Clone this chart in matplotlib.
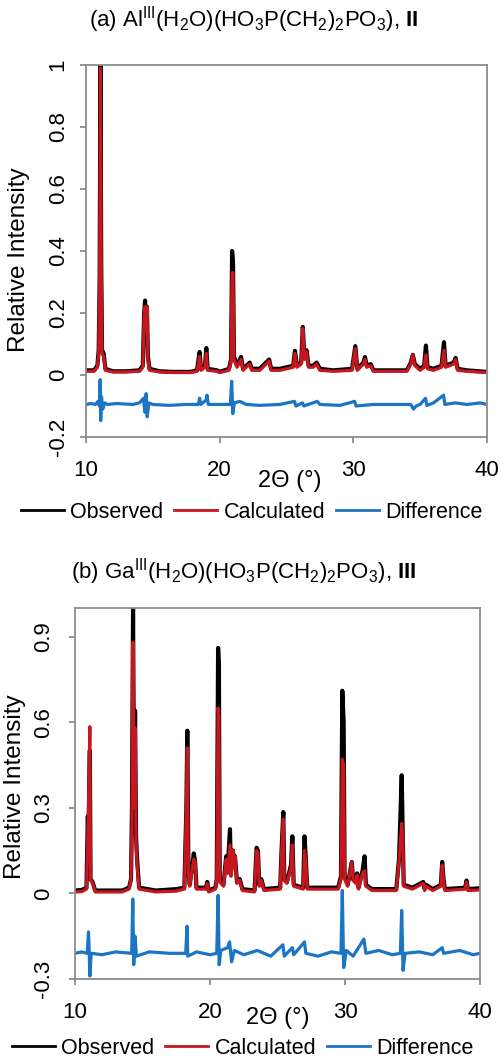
import numpy as np
import matplotlib
matplotlib.use("Agg")
import matplotlib.pyplot as plt
from matplotlib.lines import Line2D

plt.rcParams['font.family'] = ['Liberation Sans', 'DejaVu Sans']
plt.rcParams['mathtext.fontset'] = 'custom'
plt.rcParams['mathtext.rm'] = 'Liberation Sans'
plt.rcParams['mathtext.it'] = 'Liberation Sans:italic'
plt.rcParams['mathtext.bf'] = 'Liberation Sans:bold'

# ------------------------------
# Panel (a): Al(III) compound II
# ------------------------------
tth_obs_a = [10.0, 10.6, 10.85, 10.95, 11.02, 11.08, 11.14, 11.2, 11.32, 11.45, 12.0, 13.0,
             14.0, 14.25, 14.35, 14.42, 14.5, 14.56, 14.63, 14.75, 15.5, 16.5, 17.8, 18.3,
             18.5, 18.6, 18.9, 19.0, 19.1, 19.8, 20.0, 20.7, 20.85, 20.93, 21.0, 21.07,
             21.3, 21.6, 21.75, 22.0, 22.25, 22.4, 23.0, 23.7, 23.85, 24.5, 25.5, 25.63,
             25.78, 26.1, 26.22, 26.33, 26.5, 26.65, 27.0, 27.25, 27.5, 28.5, 29.9, 30.15,
             30.3, 30.75, 30.87, 31.0, 31.3, 31.5, 34.0, 34.3, 34.45, 34.6, 35.0, 35.3,
             35.43, 35.55, 36.0, 36.6, 36.78, 36.9, 37.5, 37.65, 37.8, 38.5, 40.0]
obs_a = [0.015, 0.015, 0.03, 0.08, 0.30, 1.0, 0.35, 0.08, 0.07, 0.02, 0.012, 0.012,
         0.015, 0.03, 0.20, 0.24, 0.15, 0.22, 0.06, 0.02, 0.012, 0.01, 0.01, 0.015,
         0.074, 0.02, 0.03, 0.087, 0.02, 0.015, 0.01, 0.02, 0.05, 0.40, 0.36, 0.06,
         0.03, 0.058, 0.02, 0.03, 0.04, 0.02, 0.02, 0.05, 0.02, 0.02, 0.03, 0.078,
         0.03, 0.04, 0.155, 0.06, 0.08, 0.03, 0.03, 0.04, 0.02, 0.015, 0.02, 0.093,
         0.02, 0.04, 0.058, 0.03, 0.035, 0.015, 0.015, 0.04, 0.065, 0.035, 0.02, 0.03,
         0.095, 0.025, 0.02, 0.03, 0.106, 0.03, 0.04, 0.055, 0.02, 0.015, 0.01]
calc_a = [0.012, 0.012, 0.025, 0.07, 0.30, 0.99, 0.35, 0.07, 0.06, 0.015, 0.01, 0.01,
          0.012, 0.025, 0.19, 0.22, 0.14, 0.22, 0.05, 0.015, 0.01, 0.008, 0.008, 0.012,
          0.06, 0.015, 0.025, 0.07, 0.015, 0.012, 0.008, 0.015, 0.045, 0.33, 0.33, 0.05,
          0.025, 0.05, 0.015, 0.025, 0.035, 0.015, 0.015, 0.045, 0.015, 0.015, 0.025, 0.07,
          0.025, 0.035, 0.15, 0.05, 0.075, 0.025, 0.025, 0.035, 0.015, 0.012, 0.015, 0.085,
          0.015, 0.035, 0.05, 0.025, 0.03, 0.012, 0.012, 0.035, 0.065, 0.03, 0.015, 0.025,
          0.065, 0.02, 0.015, 0.025, 0.08, 0.025, 0.035, 0.05, 0.015, 0.012, 0.008]

tth_diff_a = [10.0, 10.4, 10.7, 10.9, 11.0, 11.06, 11.1, 11.16, 11.25, 11.4, 11.6, 12.3,
              13.5, 14.0, 14.3, 14.4, 14.5, 14.58, 14.7, 15.0, 16.2, 17.5, 18.4, 18.5,
              18.6, 19.0, 19.05, 19.15, 20.8, 20.9, 20.98, 21.1, 21.5, 22.0, 23.0, 24.5,
              25.6, 25.7, 26.2, 26.3, 27.3, 27.5, 29.0, 30.1, 30.2, 31.5, 33.0, 34.3,
              34.5, 34.7, 35.0, 35.4, 35.5, 36.0, 36.75, 36.85, 37.6, 38.5, 39.5, 40.0]
diff_a = [-0.095, -0.092, -0.095, -0.085, -0.10, -0.015, -0.147, -0.07, -0.11, -0.09, -0.095, -0.092,
          -0.095, -0.09, -0.075, -0.12, -0.06, -0.135, -0.09, -0.095, -0.098, -0.095, -0.095, -0.075,
          -0.095, -0.08, -0.065, -0.095, -0.095, -0.02, -0.125, -0.09, -0.085, -0.095, -0.098, -0.095,
          -0.085, -0.10, -0.09, -0.10, -0.085, -0.095, -0.098, -0.085, -0.10, -0.095, -0.095, -0.095,
          -0.11, -0.10, -0.095, -0.075, -0.098, -0.09, -0.065, -0.095, -0.09, -0.095, -0.09, -0.095]

# ------------------------------
# Panel (b): Ga(III) compound III
# ------------------------------
tth_obs_b = [10.0, 10.5, 10.85, 10.95, 11.0, 11.1, 11.15, 11.3, 11.5, 13.5, 14.0, 14.15,
             14.22, 14.3, 14.38, 14.45, 14.52, 14.6, 14.75, 16.0, 17.5, 18.1, 18.25, 18.32,
             18.4, 18.5, 18.8, 18.9, 19.0, 19.7, 19.8, 19.9, 20.4, 20.5, 20.6, 20.66,
             20.72, 21.0, 21.2, 21.3, 21.48, 21.55, 21.7, 21.8, 21.85, 22.0, 22.2, 22.4,
             23.3, 23.45, 23.55, 23.65, 23.8, 24.0, 25.2, 25.3, 25.43, 25.5, 25.7, 26.0,
             26.1, 26.2, 26.9, 27.0, 27.1, 27.2, 29.5, 29.7, 29.8, 29.9, 29.97, 30.2,
             30.5, 30.6, 30.8, 30.9, 31.0, 31.3, 31.45, 31.55, 32.0, 33.8, 34.0, 34.2,
             34.28, 34.35, 35.0, 35.8, 35.9, 36.0, 36.5, 37.1, 37.2, 37.3, 37.4, 38.9,
             39.0, 39.1, 40.0]
obs_b = [0.01, 0.012, 0.02, 0.27, 0.20, 0.50, 0.05, 0.04, 0.01, 0.01, 0.02, 0.05,
         0.30, 1.0, 0.30, 0.64, 0.20, 0.12, 0.02, 0.01, 0.015, 0.02, 0.30, 0.57,
         0.08, 0.03, 0.14, 0.11, 0.02, 0.02, 0.04, 0.01, 0.02, 0.05, 0.86, 0.80,
         0.05, 0.03, 0.13, 0.08, 0.225, 0.07, 0.15, 0.10, 0.13, 0.04, 0.05, 0.015,
         0.01, 0.16, 0.15, 0.03, 0.05, 0.015, 0.02, 0.15, 0.285, 0.05, 0.04, 0.10,
         0.20, 0.03, 0.02, 0.20, 0.12, 0.02, 0.02, 0.06, 0.71, 0.60, 0.06, 0.03,
         0.11, 0.05, 0.04, 0.07, 0.02, 0.08, 0.13, 0.03, 0.015, 0.015, 0.12, 0.414,
         0.20, 0.03, 0.02, 0.04, 0.015, 0.03, 0.015, 0.03, 0.11, 0.05, 0.015, 0.02,
         0.045, 0.015, 0.018]
calc_b = [0.005, 0.006, 0.015, 0.20, 0.30, 0.584, 0.05, 0.035, 0.005, 0.005, 0.015, 0.05,
          0.25, 0.88, 0.30, 0.58, 0.18, 0.10, 0.015, 0.005, 0.008, 0.015, 0.30, 0.51,
          0.07, 0.025, 0.12, 0.11, 0.015, 0.015, 0.035, 0.005, 0.015, 0.05, 0.65, 0.62,
          0.04, 0.025, 0.12, 0.07, 0.17, 0.06, 0.15, 0.09, 0.13, 0.035, 0.045, 0.01,
          0.005, 0.15, 0.14, 0.025, 0.045, 0.01, 0.015, 0.14, 0.26, 0.045, 0.035, 0.09,
          0.17, 0.025, 0.015, 0.15, 0.11, 0.015, 0.015, 0.05, 0.47, 0.45, 0.05, 0.025,
          0.11, 0.045, 0.035, 0.065, 0.015, 0.07, 0.08, 0.025, 0.01, 0.01, 0.11, 0.245,
          0.19, 0.025, 0.015, 0.035, 0.01, 0.025, 0.01, 0.025, 0.10, 0.045, 0.01, 0.015,
          0.04, 0.01, 0.012]

tth_diff_b = [10.0, 10.5, 10.9, 11.0, 11.05, 11.1, 11.2, 12.0, 13.0, 14.2, 14.28, 14.35,
              14.45, 14.55, 15.5, 17.0, 18.2, 18.3, 18.35, 19.0, 20.0, 20.5, 20.6, 20.68,
              20.8, 21.3, 21.45, 21.6, 21.8, 22.5, 23.5, 24.5, 25.4, 25.5, 26.1, 26.2,
              27.0, 27.1, 28.0, 29.0, 29.7, 29.8, 29.9, 30.1, 30.6, 31.4, 31.55, 32.5,
              33.5, 34.1, 34.2, 34.3, 34.45, 35.5, 36.5, 37.2, 37.3, 38.5, 39.5, 40.0]
diff_b = [-0.21, -0.205, -0.21, -0.135, -0.20, -0.29, -0.21, -0.215, -0.205, -0.21, -0.02, -0.25,
          -0.15, -0.22, -0.205, -0.21, -0.21, -0.115, -0.22, -0.205, -0.215, -0.21, -0.007, -0.25,
          -0.20, -0.19, -0.17, -0.24, -0.20, -0.215, -0.20, -0.22, -0.18, -0.22, -0.19, -0.215,
          -0.17, -0.21, -0.22, -0.205, -0.21, 0.01, -0.26, -0.20, -0.22, -0.16, -0.21, -0.20,
          -0.215, -0.21, -0.06, -0.27, -0.21, -0.205, -0.215, -0.19, -0.21, -0.2, -0.215, -0.21]

title_a = r'(a) Al$^{\mathrm{III}}$(H$_{2}$O)(HO$_{3}$P(CH$_{2}$)$_{2}$PO$_{3}$), $\mathbf{II}$'
title_b = r'(b) Ga$^{\mathrm{III}}$(H$_{2}$O)(HO$_{3}$P(CH$_{2}$)$_{2}$PO$_{3}$), $\mathbf{III}$'

C_OBS = 'black'
C_CALC = '#c8161e'
C_DIFF = '#1c74c4'
GREY = '#8c8c8c'
FS = 16

fig = plt.figure(figsize=(5.01, 10.59), dpi=100)


def draw_panel(rect, tth_obs, obs, calc, tth_diff, diff, ylim, yticks, ylabels, ypad):
    ax = fig.add_axes(rect)
    ax.plot(tth_obs, obs, color=C_OBS, lw=3.0)
    ax.plot(tth_obs, calc, color=C_CALC, lw=2.3)
    ax.plot(tth_diff, diff, color=C_DIFF, lw=2.3)
    ax.set_xlim(10, 40)
    ax.set_ylim(*ylim)
    ax.set_xticks([10, 20, 30, 40])
    ax.set_yticks(yticks)
    ax.set_yticklabels(ylabels, rotation=90, va='center')
    for s in ax.spines.values():
        s.set_color(GREY)
        s.set_linewidth(1.3)
    ax.tick_params(axis='both', colors=GREY, labelcolor='black', labelsize=FS,
                   length=4.5, width=1.3, direction='out')
    ax.tick_params(axis='x', pad=12)
    ax.tick_params(axis='y', pad=ypad)
    return ax


ax_a = draw_panel([86 / 501, 1 - 437 / 1059, 401 / 501, 372 / 1059],
                  tth_obs_a, obs_a, calc_a, tth_diff_a, diff_a,
                  (-0.2, 1.0), [-0.2, 0, 0.2, 0.4, 0.6, 0.8, 1.0],
                  ['-0.2', '0', '0.2', '0.4', '0.6', '0.8', '1'], 8)
ax_b = draw_panel([75 / 501, 1 - 979 / 1059, 405 / 501, 371 / 1059],
                  tth_obs_b, obs_b, calc_b, tth_diff_b, diff_b,
                  (-0.3, 1.0), [-0.3, 0, 0.3, 0.6, 0.9],
                  ['-0.3', '0', '0.3', '0.6', '0.9'], 10.5)

fig.text(19 / 501, 1 - 260 / 1059, 'Relative Intensity', rotation=90,
         ha='center', va='center', fontsize=17.5)
fig.text(15 / 501, 1 - 787 / 1059, 'Relative Intensity', rotation=90,
         ha='center', va='center', fontsize=17.5)

fig.text(254 / 501, 1 - 20 / 1059, title_a, ha='center', va='center', fontsize=16)
fig.text(244 / 501, 1 - 572 / 1059, title_b, ha='center', va='center', fontsize=16)
fig.text(290 / 501, 1 - 481 / 1059, '2Θ (°)', ha='center', va='center', fontsize=17)
fig.text(278 / 501, 1 - 1018 / 1059, '2Θ (°)', ha='center', va='center', fontsize=17)

handles = [Line2D([], [], color=C_OBS, lw=2),
           Line2D([], [], color=C_CALC, lw=2),
           Line2D([], [], color=C_DIFF, lw=2)]
names = ['Observed', 'Calculated', 'Difference']
for cx, cy in [(252 / 501, 1 - 512 / 1059), (243 / 501, 1 - 1048 / 1059)]:
    fig.legend(handles, names, loc='center', bbox_to_anchor=(cx, cy), ncol=3,
               frameon=False, fontsize=15.5, handlelength=2.0, handletextpad=0.3,
               columnspacing=0.5, borderpad=0, borderaxespad=0)

fig.savefig('out.png', dpi=100)
